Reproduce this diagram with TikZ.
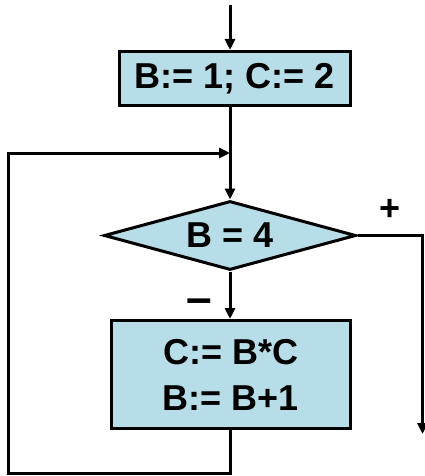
\documentclass[tikz,border=0pt]{standalone}
\usepackage{fontspec}
\setmainfont{Liberation Sans}
\usetikzlibrary{shapes.geometric,arrows.meta}
\definecolor{boxfill}{RGB}{183,221,232}
\tikzset{
  blk/.style={draw=black, line width=3pt, fill=boxfill, inner sep=0pt,
    font=\fontsize{36}{46}\selectfont\bfseries, align=center},
  dec/.style={blk, diamond, aspect=3.6, minimum width=252pt, minimum height=69pt},
  conn/.style={line width=3pt, line join=miter},
  arr/.style={conn, -{Triangle[width=10pt,length=11pt]}},
  lbl/.style={inner sep=0pt, font=\fontsize{36}{46}\selectfont\bfseries},
}
\begin{document}
\begin{tikzpicture}[x=1pt,y=-1pt]
\useasboundingbox (0,0) rectangle (425,476);
\coordinate (in) at (230,5);
\node[blk, minimum width=231pt, minimum height=54pt] (b1) at (235,78.5) {B:= 1; C:= 2};
\node[dec] (d) at (230,235.5) {B = 4};
\node[blk, minimum width=239pt, minimum height=108pt] (b2) at (231,374.5) {C:= B*C\\B:= B+1};
\node[lbl] (plus) at (390,210) {+};
\node[lbl, font=\fontsize{46}{46}\selectfont\bfseries] (minus) at (199,306) {–};
\coordinate (lb) at (230,473);
\coordinate (lt) at (8.5,153);
\coordinate (join) at (230,153);
\coordinate (yr) at (422.5,236);
\coordinate (yend) at (422.5,434);
\draw[arr] (in) -- (in |- b1.north);
\draw[arr] (b1.south -| in) -- (d.north);
\draw[arr] (b2.south -| in) -- (lb) -| (lt) -- (join);
\draw[arr] (d.east) -- (d.east -| yr) -- (yend);
\draw[arr] (d.south) -- (b2.north -| in);
\end{tikzpicture}
\end{document}
